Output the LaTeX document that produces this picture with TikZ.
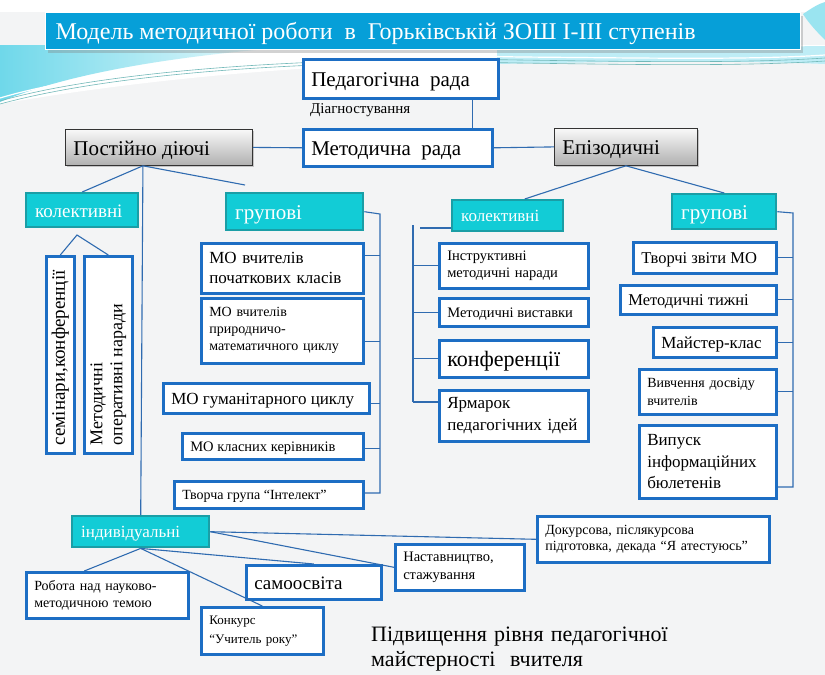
\documentclass[tikz,border=0pt]{standalone}
\usepackage{fontspec}
\setmainfont{Liberation Serif}
\usetikzlibrary{calc,shadows}
\definecolor{bgc}{HTML}{F3F4F5}
\definecolor{titlec}{HTML}{069FD8}
\definecolor{boxb}{HTML}{1D6EC4}
\definecolor{tealf}{HTML}{12CCD6}
\definecolor{tealb}{HTML}{1A9EA6}
\definecolor{linec}{HTML}{2F6BB0}
\definecolor{swc}{HTML}{6FD8EA}
\newcommand\fz[2]{\fontsize{#1}{#2}\selectfont}
\newcommand\lb[2]{\makebox[#1pt][l]{\raisebox{0pt}[0.78em][0.04em]{#2}}}
\begin{document}
\begin{tikzpicture}[x=1pt,y=-1pt,
  wbox/.style={draw=boxb, line width=2.6pt, fill=white, inner xsep=8pt, inner ysep=1pt, align=left, anchor=north west},
  tbox/.style={draw=tealb, line width=2.4pt, fill=tealf, text=white, inner xsep=9pt, inner ysep=1pt, align=left, anchor=north west},
  gbox/.style={draw=black!80, line width=0.8pt, top color=gray!5, bottom color=gray!62, drop shadow={opacity=0.4,shadow xshift=2pt,shadow yshift=-2pt}, inner xsep=8pt, align=left, anchor=north west},
  conn/.style={draw=linec, line width=1.1pt},
  swl/.style={draw=teal!55, line width=0.6pt}
]
\useasboundingbox (0,0) rectangle (825,675);
\fill[bgc] (0,0) rectangle (825,675);
\fill[white] (0,0) rectangle (825,12);
% swoosh
\fill[white] (0,45) -- (825,45) -- (825,60) .. controls (600,58) and (300,52) .. (0,104) -- cycle;
\shade[left color=swc, right color=white] (0,45) -- (320,45) .. controls (210,52) and (80,68) .. (0,102) -- cycle;
\fill[swc!45] (497,50) -- (825,46) -- (825,64) .. controls (720,60) and (600,62) .. (497,64) -- cycle;
\fill[swc!70] (803,14) .. controls (812,8) and (818,4) .. (825,2) -- (825,40) .. controls (815,30) and (808,22) .. (803,14) -- cycle;
\draw[swl] (0,101) .. controls (100,72) and (300,56) .. (520,60) .. controls (650,62) and (750,63) .. (825,58);
\draw[swl] (0,104) .. controls (110,74) and (300,59) .. (520,63) .. controls (650,65) and (750,66) .. (825,61);
\draw[swl, draw=white, line width=1.2pt] (0,98) .. controls (100,68) and (300,52) .. (520,57) .. controls (650,58) and (750,60) .. (825,55);

% title
\node[fill=titlec, draw=white, line width=1.2pt, text=white, anchor=north west, inner xsep=10pt, inner ysep=0pt,
      minimum height=37pt, font=\fz{24}{28},
      drop shadow={opacity=0.35,shadow xshift=2pt,shadow yshift=-3pt}] (title) at (45,12)
  {\lb{735}{Модель методичної роботи\ \ в\ \ Горьківській ЗОШ І-ІІІ ступенів}};

% top level
\node[wbox, minimum height=39pt, font=\fz{21}{25}] (ped) at (302,58) {\lb{179}{Педагогічна\ \ рада}};
\node[anchor=base west, inner sep=0pt, font=\fz{15}{18}] (diag) at (310,113) {Діагностування};
\node[wbox, minimum height=37pt, font=\fz{21}{25}] (met) at (302,128) {\lb{173}{Методична\ \ рада}};
\node[gbox, minimum height=36pt, font=\fz{21}{25}] (post) at (65,129) {\lb{171}{Постійно діючі}};
\node[gbox, minimum height=37pt, font=\fz{21}{25}] (epi) at (554,128) {\lb{127}{Епізодичні}};

% left branch
\node[tbox, minimum height=34pt, font=\fz{19}{22}] (kolL) at (25,192) {\lb{94}{колективні}};
\node[tbox, minimum height=37pt, font=\fz{21}{25}] (grpL) at (225,192) {\lb{119}{групові}};
\node[wbox, minimum width=28pt, minimum height=197pt, inner xsep=0pt, inner ysep=0pt, font=\fz{19}{20}] (rot1) at (45,255)
  {\rotatebox{90}{\parbox{181pt}{\raggedright семінари,конференції}}};
\node[wbox, minimum width=48pt, minimum height=197pt, inner xsep=0pt, inner ysep=0pt, font=\fz{18}{20}] (rot2) at (83,255)
  {\rotatebox{90}{\parbox{181pt}{\raggedright Методичні\\оперативні наради}}};
\node[wbox, text width=146pt, minimum height=50pt, font=\fz{17}{20}] (mo1) at (200,242) {МО вчителів\\початкових класів};
\node[wbox, text width=146pt, minimum height=65pt, font=\fz{14}{17}] (mo2) at (200,297) {МО вчителів\\природничо-\\математичного циклу};
\node[wbox, minimum height=30pt, font=\fz{17}{20}] (mo3) at (162,382) {\lb{190}{МО гуманітарного циклу}};
\node[wbox, minimum height=26pt, font=\fz{14.5}{17}] (mo4) at (181,432) {\lb{165}{МО класних керівників}};
\node[wbox, minimum height=27pt, font=\fz{14}{17}] (mo5) at (173,480) {\lb{173}{Творча група “Інтелект”}};

% right branch
\node[tbox, minimum height=31pt, font=\fz{17}{20}] (kolR) at (451,199) {\lb{93}{колективні}};
\node[wbox, text width=133pt, minimum height=45pt, font=\fz{14.5}{17.5}] (in1) at (438,242) {Інструктивні\\методичні наради};
\node[wbox, minimum height=28pt, font=\fz{14.5}{17}] (in2) at (438,297) {\lb{133}{Методичні виставки}};
\node[wbox, minimum height=37pt, font=\fz{22}{26}] (in3) at (438,339) {\lb{133}{конференції}};
\node[wbox, text width=133pt, minimum height=51pt, font=\fz{17}{22}] (in4) at (438,389) {Ярмарок\\педагогічних ідей};
\node[tbox, minimum height=35pt, font=\fz{21}{25}] (grpR) at (671,193) {\lb{86}{групові}};
\node[wbox, minimum height=31pt, font=\fz{16.5}{19}] (r1) at (632,241) {\lb{127}{Творчі звіти МО}};
\node[wbox, minimum height=29pt, font=\fz{16.5}{19}] (r2) at (619,284) {\lb{140}{Методичні тижні}};
\node[wbox, minimum height=30pt, font=\fz{17}{20}] (r3) at (652,326) {\lb{107}{Майстер-клас}};
\node[wbox, text width=121pt, minimum height=45pt, font=\fz{14}{18}] (r4) at (638,368) {Вивчення досвіду\\вчителів};
\node[wbox, text width=121pt, minimum height=73pt, font=\fz{17}{21.5}] (r5) at (638,424) {Випуск\\інформаційних\\бюлетенів};

% individual
\node[tbox, minimum height=31pt, font=\fz{17}{20}] (ind) at (71,515) {\lb{119}{індивідуальні}};
\node[wbox, text width=216pt, minimum height=46pt, font=\fz{14}{16.5}] (dok) at (536,515) {Докурсова, післякурсова\\підготовка, декада “Я атестуюсь”};
\node[wbox, text width=113pt, minimum height=46pt, font=\fz{14.5}{18}] (nas) at (394,543) {Наставництво,\\стажування};
\node[wbox, minimum height=34pt, font=\fz{19}{22}] (sam) at (245,564) {\lb{119}{самоосвіта}};
\node[wbox, text width=146pt, minimum height=46pt, font=\fz{14}{17}] (rob) at (25,571) {Робота над науково-\\методичною темою};
\node[wbox, text width=106pt, minimum height=47pt, font=\fz{13}{19}] (kon) at (200,606) {Конкурс\\“Учитель року”};
\node[anchor=base west, inner sep=0pt, text width=320pt, align=left, font=\fz{22}{25}] (motto) at (371,641)
  {Підвищення рівня педагогічної\\майстерності\ \ вчителя};

% connectors: top
\draw[conn] ([xshift=72pt]ped.south) -- ([xshift=72pt]ped.south |- met.north);
\draw[conn] (post.east) -- (met.west);
\draw[conn] (met.east) -- (epi.west);
\coordinate (pa) at ($(post.south west)!0.415!(post.south east)$);
\coordinate (gend) at (245,185);
\draw[conn] (kolL.north) -- (pa) -- (gend);
\draw[conn] (pa) -- (ind.north);
\coordinate (ka) at (77,235);
\draw[conn] (rot1.north) -- (ka) -- (rot2.north);

% left groups bracket
\coordinate (bL1) at (380,214);
\coordinate (bL2) at (380,493);
\draw[conn] (grpL.east) -- (bL1) -- (bL2) -- (bL2 -| mo5.east);
\coordinate (t1) at ($(mo1.north east)!0.26!(mo1.south east)$);
\coordinate (t2) at ($(mo2.north east)!0.66!(mo2.south east)$);
\coordinate (t3) at ($(mo3.north east)!0.67!(mo3.south east)$);
\coordinate (t4) at ($(mo4.north east)!0.58!(mo4.south east)$);
\foreach \t in {t1,t2,t3,t4} \draw[conn] (\t) -- (\t -| bL1);

% right collective bracket
\coordinate (bK1) at (413,225);
\coordinate (bK2) at (413,402);
\coordinate (kt) at (420,228);
\draw[conn] (bK1) -- (bK2);
\draw[conn] (kt) -- (kt -| kolR.west);
\draw[conn] (in1.west) -- (in1.west -| bK1);
\draw[conn] (in2.west) -- (in2.west -| bK1);
\draw[conn] (in3.west) -- (in3.west -| bK1);
\draw[conn] (bK2) -- (bK2 -| in4.west);

% right groups bracket
\coordinate (bG1) at (793,213);
\coordinate (bG2) at (793,487);
\draw[conn] (grpR.east) -- (bG1) -- (bG2) -- (bG2 -| r5.east);
\foreach \t in {r1,r2,r3,r4} \draw[conn] (\t.east) -- (\t.east -| bG1);

% episodic
\draw[conn] ($(kolR.north west)!0.65!(kolR.north east)$) -- (epi.south) -- (grpR.north);

% individual
\draw[conn] (ind.east) -- (dok.west);
\draw[conn] (ind.east) -- (nas.west);
\draw[conn] (ind.south) -- (sam.north);
\draw[conn] (ind.south) -- ($(rob.north west)!0.36!(rob.north east)$);
\draw[conn] (ind.south) -- (kon.north);
\end{tikzpicture}
\end{document}
